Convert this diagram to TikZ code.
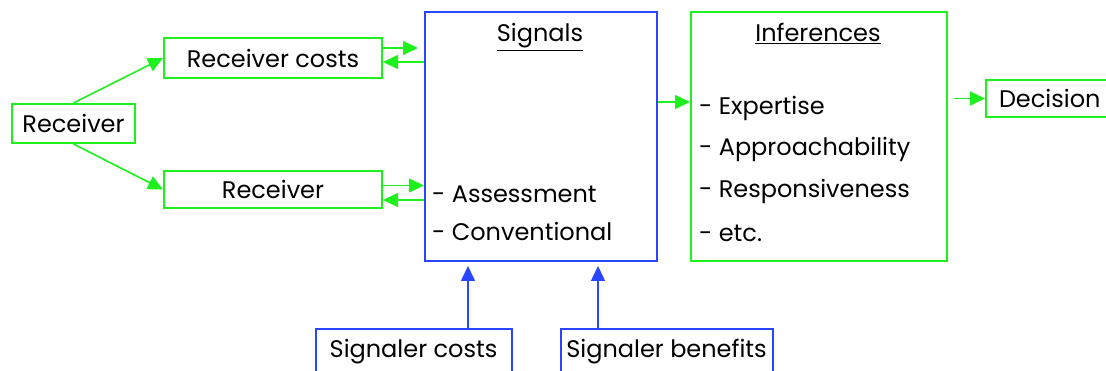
\documentclass[tikz,border=0pt]{standalone}
\usepackage{fontspec}
\setmainfont{Poppins}
\usetikzlibrary{arrows.meta,positioning}
\definecolor{boxgreen}{RGB}{30,240,30}
\definecolor{boxblue}{RGB}{40,70,255}

\begin{document}
\begin{tikzpicture}[
    x=1pt, y=-1pt,
    font=\fontsize{24}{28}\selectfont,
    gbox/.style={rectangle, draw=boxgreen, line width=2pt, inner sep=0pt},
    bbox/.style={rectangle, draw=boxblue, line width=2pt, inner sep=0pt},
    item/.style={anchor=base west, inner sep=0pt},
    heading/.style={anchor=base, inner sep=0pt},
    garrow/.style={-{Triangle[length=15pt,width=14pt]}, draw=boxgreen, line width=1.6pt},
    barrow/.style={-{Triangle[length=15pt,width=14pt]}, draw=boxblue, line width=1.6pt}
]
\useasboundingbox (0,0) rectangle (1106,371);
% receiver side
\node[gbox, minimum width=123pt, minimum height=39pt] (rcv) at (73.5,123.5) {Receiver};
\node[gbox, minimum width=218pt, minimum height=40pt] (rcvcost) at (273,58) {Receiver costs};
\node[gbox, minimum width=218pt, minimum height=37pt] (rcvbox) at (273,189.5) {Receiver};
% signals
\node[bbox, minimum width=232pt, minimum height=249pt] (sig) at (541,136.5) {};
\node[heading] (sigtitle) at (540,42) {\underline{Signals}};
\node[item] (sig1) at (432,203) {- Assessment};
\node[item] (sig2) at (432,241) {- Conventional};
% inferences
\node[gbox, minimum width=256pt, minimum height=249pt] (inf) at (819,136.5) {};
\node[heading] (inftitle) at (818,42) {\underline{Inferences}};
\node[item] (inf1) at (699,115) {- Expertise};
\node[item] (inf2) at (699,156) {- Approachability};
\node[item] (inf3) at (699,198) {- Responsiveness};
\node[item] (inf4) at (699,242) {- etc.};
\node[gbox, anchor=west, inner xsep=13pt, minimum height=37pt] (dec) at (985,98.5) {Decision};
% signaler side
\node[bbox, minimum width=196pt, minimum height=46pt] (scost) at (413.5,352) {Signaler costs};
\node[bbox, minimum width=212pt, minimum height=46pt] (sben) at (666.5,352) {Signaler benefits};
% connectors
\draw[garrow] (rcv.north) -- (rcvcost.west);
\draw[garrow] (rcv.south) -- (rcvbox.west);
\draw[garrow, shorten >=6pt] ([yshift=10pt]rcvcost.east) -- ([yshift=10pt]rcvcost.east -| sig.west);
\draw[garrow] ([yshift=-4pt]rcvcost.east -| sig.west) -- ([yshift=-4pt]rcvcost.east);
\draw[garrow] ([yshift=4pt]rcvbox.east) -- ([yshift=4pt]rcvbox.east -| sig.west);
\draw[garrow] ([yshift=-10.5pt]rcvbox.east -| sig.west) -- ([yshift=-10.5pt]rcvbox.east);
\draw[garrow] ([yshift=34.5pt]sig.east) -- ([yshift=34.5pt]sig.east -| inf.west);
\draw[garrow, shorten <=6pt] (inf.east |- dec.west) -- (dec.west);
\draw[barrow, shorten >=4pt] ([xshift=54.5pt]scost.north) -- ([xshift=54.5pt]scost.north |- sig.south);
\draw[barrow, shorten >=4pt] ([xshift=-68.5pt]sben.north) -- ([xshift=-68.5pt]sben.north |- sig.south);
\end{tikzpicture}
\end{document}
